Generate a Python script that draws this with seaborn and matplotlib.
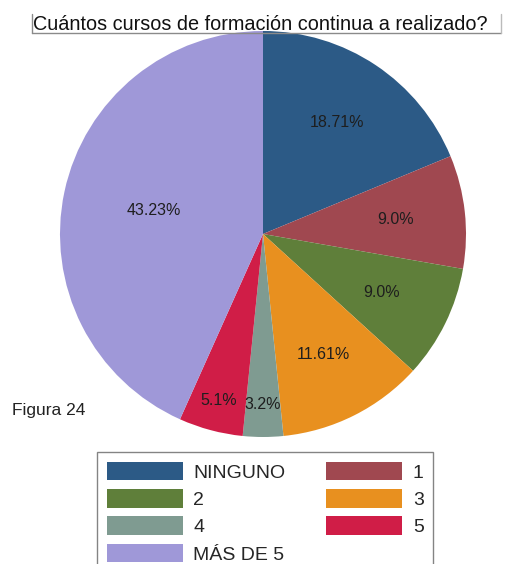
import numpy as np
import matplotlib
matplotlib.use('Agg')
import matplotlib.pyplot as plt
from matplotlib.lines import Line2D
from matplotlib.patches import Patch
import seaborn as sns

# data
categories = ['NINGUNO', '1', '2', '3', '4', '5', 'MÁS DE 5']
values = [18.71, 9.0, 9.0, 11.61, 3.2, 5.1, 43.23]
pct_labels = ['18.71%', '9.0%', '9.0%', '11.61%', '3.2%', '5.1%', '43.23%']
colors = ['#2c5a86', '#a04850', '#5f7f3a', '#e8901f', '#7f9b91', '#d01d47', '#9f98d8']

sns.set_theme(style='white')
plt.rcParams['font.family'] = ['Liberation Sans', 'DejaVu Sans']

W, H = 505, 564
fig = plt.figure(figsize=(W / 100, H / 100), dpi=100)

# pie centre ~ (263, 234) px, radius ~203 px
cx, cy, r = 263, 234, 203
ax = fig.add_axes([(cx - r) / W, (H - cy - r) / H, 2 * r / W, 2 * r / H])
wedges, _ = ax.pie(values, colors=colors, startangle=90, counterclock=False,
                   radius=1, wedgeprops=dict(linewidth=0))
ax.set_xlim(-1, 1)
ax.set_ylim(-1, 1)
ax.set_aspect('equal')
ax.axis('off')

# label distance from centre (fraction of radius)
label_r = [0.66, 0.655, 0.65, 0.665, 0.84, 0.85, 0.55]
for w, lab, lr in zip(wedges, pct_labels, label_r):
    th = np.deg2rad((w.theta1 + w.theta2) / 2)
    ax.text(lr * np.cos(th), lr * np.sin(th), lab, ha='center', va='center',
            fontsize=11.5, color='#1e1e1e')

# title with its grey frame
fig.text(33 / W, 1 - 25 / H, 'Cuántos cursos de formación continua a realizado?',
         fontsize=14.3, color='#111111', ha='left', va='center')
gray = '#8a8a8a'
fig.add_artist(Line2D([32 / W, 32 / W], [1 - 14 / H, 1 - 33 / H], color=gray, lw=1))
fig.add_artist(Line2D([32 / W, 501 / W], [1 - 33 / H, 1 - 33 / H], color=gray, lw=1))
fig.add_artist(Line2D([501 / W, 501 / W], [1 - 14 / H, 1 - 33 / H], color='#bbbbbb', lw=1))

fig.text(12 / W, 1 - 411 / H, 'Figura 24', fontsize=12.5, color='#222222',
         ha='left', va='center')

# legend, filled column-wise
order = [0, 2, 4, 6, 1, 3, 5]
handles = [Patch(facecolor=colors[i], edgecolor='none') for i in order]
labels = [categories[i] for i in order]
leg = fig.legend(handles, labels, ncol=2, loc='upper left',
                 bbox_to_anchor=(97 / W, 1 - 452 / H), frameon=True,
                 fontsize=14, handlelength=3.9, handleheight=1.1,
                 handletextpad=0.55, columnspacing=2.1, labelspacing=0.38,
                 borderpad=0.5, borderaxespad=0, fancybox=False)
leg.get_frame().set_edgecolor('#666666')
leg.get_frame().set_linewidth(1)

fig.savefig('out.png', dpi=100)
